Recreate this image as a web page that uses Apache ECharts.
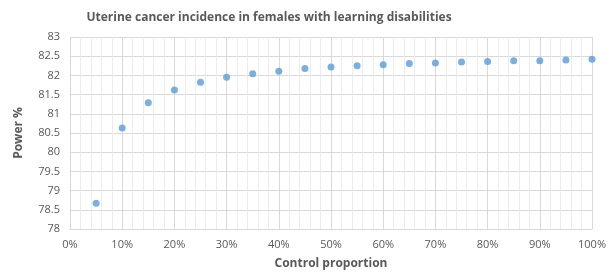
<!DOCTYPE html>
<html><head><meta charset="utf-8">
<script src="https://cdn.jsdelivr.net/npm/echarts@6/dist/echarts.min.js"></script>
<style>html,body{margin:0;padding:0;background:#fff}#c{width:609px;height:275px}</style>
</head><body><div id="c"></div>
<script>
const controlProportion = [0.05,0.10,0.15,0.20,0.25,0.30,0.35,0.40,0.45,0.50,0.55,0.60,0.65,0.70,0.75,0.80,0.85,0.90,0.95,1.00];
const powerPct = [78.67,80.63,81.29,81.62,81.82,81.95,82.04,82.11,82.18,82.22,82.25,82.28,82.31,82.32,82.35,82.36,82.38,82.38,82.40,82.42];
const titleText = 'Uterine cancer incidence in females with learning disabilities';
const xName = 'Control proportion';
const yName = 'Power %';

const font = '"Open Sans", sans-serif';
const chart = echarts.init(document.getElementById('c'), null, {renderer:'canvas'});
chart.setOption({
  animation:false,
  textStyle:{fontFamily:font},
  title:{text:titleText,left:264,textAlign:'center',top:7,
    textStyle:{fontFamily:font,fontSize:12,fontWeight:'bold',color:'#595959'}},
  grid:{left:70,right:15,top:37,bottom:41,containLabel:false},
  xAxis:{type:'value',min:0,max:1,interval:0.1,
    name:xName,nameLocation:'middle',nameGap:29,
    nameTextStyle:{fontFamily:font,fontSize:12,fontWeight:'bold',color:'#595959'},
    axisLine:{show:true,lineStyle:{color:'#d9d9d9'}},
    axisTick:{show:false},
    axisLabel:{color:'#595959',fontSize:11,margin:10,formatter:v=>Math.round(v*100)+'%'},
    splitLine:{show:true,lineStyle:{color:'#d9d9d9',width:1}},
    minorTick:{show:false,splitNumber:5},
    minorSplitLine:{show:true,lineStyle:{color:'#ececec',width:1}}
  },
  yAxis:{type:'value',min:78,max:83,interval:0.5,
    name:yName,nameLocation:'middle',nameGap:45,nameRotate:90,
    nameTextStyle:{fontFamily:font,fontSize:12,fontWeight:'bold',color:'#595959'},
    axisLine:{show:false},axisTick:{show:false},
    axisLabel:{color:'#595959',fontSize:11,margin:10},
    splitLine:{show:true,lineStyle:{color:'#d9d9d9',width:1}}
  },
  series:[{type:'scatter',symbol:'circle',symbolSize:7,
    itemStyle:{color:'#5B9BD5'},
    data:controlProportion.map((x,i)=>[x,powerPct[i]])}]
});
</script></body></html>
